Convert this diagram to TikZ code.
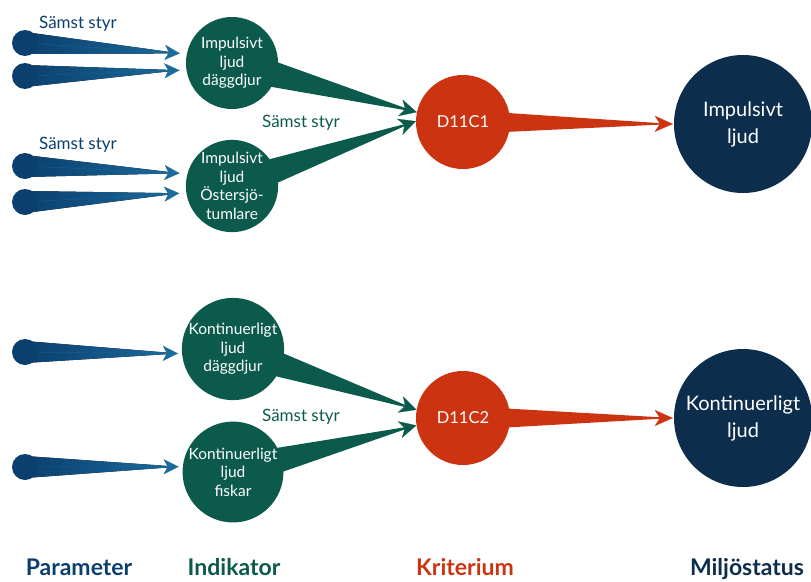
\documentclass[tikz,border=0pt]{standalone}
\usepackage{fontspec}
\setmainfont{Lato}
\usetikzlibrary{arrows.meta}
\definecolor{blue80}{HTML}{0B3F6E}
\definecolor{blue60}{HTML}{1B6B9C}
\definecolor{green80}{HTML}{0B5A4B}
\definecolor{orange80}{HTML}{CC3411}
\definecolor{navy90}{HTML}{0C2D4C}

\pgfdeclarelayer{bg}
\pgfsetlayers{bg,main}

% tapered connector: source, tip, half width, wedge style, head style
\newcommand{\taper}[5]{%
  \fill[#4] ([yshift=#3]#1.center) -- (#2) -- ([yshift=-#3]#1.center) -- cycle;
  \draw[#5] (#1) -- (#2);
}

\begin{document}
\begin{tikzpicture}[
    x=1pt, y=-1pt,
    param/.style={circle, fill=blue80, minimum size=26pt, inner sep=0pt},
    indik/.style={circle, fill=green80, minimum size=92pt, inner sep=0pt, text=white, align=center, font=\fontsize{15.5}{18.5}\selectfont},
    krit/.style={circle, fill=orange80, minimum size=94pt, inner sep=0pt, text=white, font=\fontsize{16.5}{19}\selectfont},
    status/.style={circle, fill=navy90, minimum size=138pt, inner sep=0pt, text=white, align=center, font=\fontsize{20}{27}\selectfont},
    worst/.style={font=\fontsize{17}{20}\selectfont},
    heading/.style={anchor=base, inner sep=0pt, font=\fontsize{23}{25}\selectfont\bfseries},
    bluewedge/.style={left color=blue80, right color=blue60},
    bluehead/.style={draw=blue60, line width=0.2pt, -{Stealth[length=15pt, width=15pt, inset=4pt]}},
    greenwedge/.style={fill=green80},
    greenhead/.style={draw=green80, line width=0.2pt, -{Stealth[length=17pt, width=17pt, inset=5pt]}},
    orangewedge/.style={fill=orange80},
    orangehead/.style={draw=orange80, line width=0.2pt, -{Stealth[length=18pt, width=16pt, inset=5pt]}}
]
    \useasboundingbox (0,0) rectangle (811,581);

    % parameters
    \node[param] (p1) at (25,43) {};
    \node[param] (p2) at (25,76) {};
    \node[param] (p3) at (25,166) {};
    \node[param] (p4) at (25,202) {};
    \node[param] (p5) at (25,352) {};
    \node[param] (p6) at (25,467) {};

    % indikatorer
    \node[indik] (i1) at (232,63) {Impulsivt\\ljud\\däggdjur};
    \node[indik] (i2) at (232,186) {Impulsivt\\ljud\\Östersjö-\\tumlare};
    \node[indik] (i3) at (233,349) {Kontinuerligt\\ljud\\däggdjur};
    \node[indik] (i4) at (233,472) {Kontinuerligt\\ljud\\fiskar};

    % kriterier och status
    \node[krit] (k1) at (463,122) {D11C1};
    \node[krit] (k2) at (463,418) {D11C2};
    \node[status] (s1) at (743,124) {Impulsivt\\ljud};
    \node[status] (s2) at (743,418) {Kontinuerligt\\ljud};

    % arrow tips
    \coordinate (a1) at ([xshift=-7pt]i1.168);
    \coordinate (a2) at ([xshift=-7pt]i1.189);
    \coordinate (a3) at ([xshift=-8pt]i2.164);
    \coordinate (a4) at ([xshift=-7pt]i2.189);
    \coordinate (a5) at ([xshift=-4pt]i3.185);
    \coordinate (a6) at ([xshift=-4pt]i4.174);
    \coordinate (b1) at (k1.168);
    \coordinate (b2) at (k1.179);
    \coordinate (b3) at (k2.170);
    \coordinate (b4) at (k2.189);
    \coordinate (c1) at ([xshift=-1pt]s1.west);
    \coordinate (c2) at ([xshift=-1pt]s2.west);

    \begin{pgfonlayer}{bg}
        \taper{p1}{a1}{11pt}{bluewedge}{bluehead}
        \taper{p2}{a2}{11pt}{bluewedge}{bluehead}
        \taper{p3}{a3}{11pt}{bluewedge}{bluehead}
        \taper{p4}{a4}{11pt}{bluewedge}{bluehead}
        \taper{p5}{a5}{11pt}{bluewedge}{bluehead}
        \taper{p6}{a6}{11pt}{bluewedge}{bluehead}
        \taper{i1}{b1}{17pt}{greenwedge}{greenhead}
        \taper{i2}{b2}{17pt}{greenwedge}{greenhead}
        \taper{i3}{b3}{17pt}{greenwedge}{greenhead}
        \taper{i4}{b4}{17pt}{greenwedge}{greenhead}
        \taper{k1}{c1}{12pt}{orangewedge}{orangehead}
        \taper{k2}{c2}{12pt}{orangewedge}{orangehead}
    \end{pgfonlayer}

    % labels
    \node[worst, text=blue80] (w1) at (78,24) {Sämst styr};
    \node[worst, text=blue80] (w2) at (78,145) {Sämst styr};
    \node[worst, text=green80] (w3) at (301,123) {Sämst styr};
    \node[worst, text=green80] (w4) at (301,417) {Sämst styr};

    \node[heading, text=blue80] (h1) at (79,575) {Parameter};
    \node[heading, text=green80] (h2) at (234,575) {Indikator};
    \node[heading, text=orange80] (h3) at (465,575) {Kriterium};
    \node[heading, text=navy90] (h4) at (747,575) {Miljöstatus};
\end{tikzpicture}
\end{document}
